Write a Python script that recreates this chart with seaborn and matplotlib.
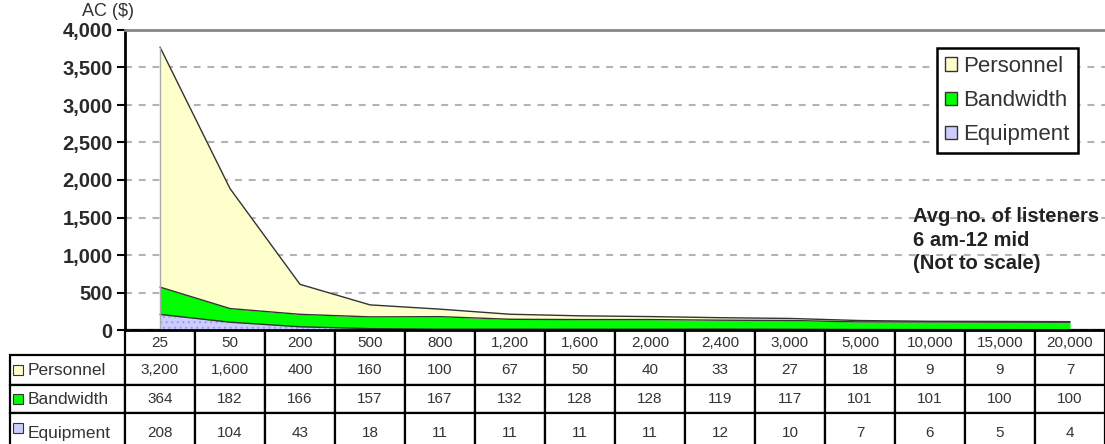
import numpy as np
import matplotlib
matplotlib.use("Agg")
import matplotlib.pyplot as plt
import seaborn as sns
from matplotlib.patches import Patch, Rectangle

# average cost per listener by audience size (stacked components)
listeners = ["25", "50", "200", "500", "800", "1,200", "1,600", "2,000",
             "2,400", "3,000", "5,000", "10,000", "15,000", "20,000"]
personnel = [3200, 1600, 400, 160, 100, 67, 50, 40, 33, 27, 18, 9, 9, 7]
bandwidth = [364, 182, 166, 157, 167, 132, 128, 128, 119, 117, 101, 101, 100, 100]
equipment = [208, 104, 43, 18, 11, 11, 11, 11, 12, 10, 7, 6, 5, 4]

series = ["Personnel", "Bandwidth", "Equipment"]
colors = {"Personnel": "#ffffcc", "Bandwidth": "#00ff00", "Equipment": "#ccccff"}

sns.set_theme(style="white")
plt.rcParams["font.family"] = ["Liberation Sans", "DejaVu Sans"]
plt.rcParams["hatch.linewidth"] = 0.8

fig = plt.figure(figsize=(11.05, 4.44), dpi=100)
ax = fig.add_axes([125 / 1105, 114 / 444, 980 / 1105, 300 / 444])

x = np.arange(len(listeners))
eq = np.array(equipment)
bw = eq + np.array(bandwidth)
pe = bw + np.array(personnel)

ax.fill_between(x, 0, eq, facecolor=colors["Equipment"], edgecolor="#9c9ce0",
                hatch="...", linewidth=0)
ax.fill_between(x, eq, bw, facecolor=colors["Bandwidth"], linewidth=0)
ax.fill_between(x, bw, pe, facecolor=colors["Personnel"], linewidth=0)
for top in (eq, bw, pe):
    sns.lineplot(x=x, y=top, ax=ax, color="#333333", linewidth=1)
ax.vlines(0, 0, pe[0], color="#aaaaaa", linewidth=1)

ax.set_xlim(-0.5, 13.5)
ax.set_ylim(0, 4000)
yt = list(range(0, 4001, 500))
ax.set_yticks(yt)
ax.set_yticklabels([f"{v:,}" for v in yt], fontsize=14.5, fontweight="bold", color="#2a2a2a")
ax.set_xticks([])
ax.set_xlabel("")
ax.set_ylabel("")
ax.tick_params(axis="y", direction="out", length=6, width=1.5, color="black", left=True, pad=3)
ax.yaxis.grid(True, linestyle=(0, (3.3, 3.3)), color="#b3b3b3", linewidth=1.5)
ax.set_axisbelow(True)
for side in ("left", "bottom"):
    ax.spines[side].set_color("black")
    ax.spines[side].set_linewidth(2)
ax.spines["top"].set_color("#888888")
ax.spines["top"].set_linewidth(2)
ax.spines["right"].set_visible(False)

# data table under the chart
vals = {"Personnel": personnel, "Bandwidth": bandwidth, "Equipment": equipment}
cell_text = [[""] + listeners] + [[s] + [f"{v:,}" for v in vals[s]] for s in series]
row_h = [25, 30, 28, 40]
tbl = ax.table(cellText=cell_text, cellLoc="center",
               bbox=[-115 / 980, -123 / 300, 1095 / 980, 123 / 300])
tbl.auto_set_font_size(False)
for (r, c), cell in tbl.get_celld().items():
    cell.set_width(115 if c == 0 else 70)
    cell.set_height(row_h[r])
    cell.set_linewidth(1.6)
    cell.set_edgecolor("black")
    cell.get_text().set_fontsize(11)
    cell.get_text().set_color("#333333")
    if c == 0:
        if r == 0:
            cell.visible_edges = ""
        else:
            cell.get_text().set_ha("left")
            cell.PAD = 18 / 115
            cell.get_text().set_fontsize(12.5)

# little colour keys in the row labels
top_px = 330 + row_h[0]
for s, h in zip(series, row_h[1:]):
    cy = top_px + h / 2 if s != "Equipment" else top_px + 15
    ax.add_patch(Rectangle(((13 - 125) / 980, (330 - cy - 5) / 300), 10 / 980, 10 / 300,
                           transform=ax.transAxes, clip_on=False, facecolor=colors[s],
                           edgecolor="#333333", linewidth=0.8, zorder=5))
    top_px += h

handles = [Patch(facecolor=colors[s], edgecolor="#333333", linewidth=1) for s in series]
leg = ax.legend(handles, series, loc="upper right", bbox_to_anchor=(0.972, 0.94),
                frameon=True, fancybox=False, edgecolor="black", framealpha=1,
                fontsize=16, handlelength=0.55, handleheight=0.55, handletextpad=0.3,
                labelspacing=0.6, borderpad=0.35, borderaxespad=0)
leg.get_frame().set_linewidth(1.8)
for t in leg.get_texts():
    t.set_color("#333333")

ax.text(0.804, 0.41, "Avg no. of listeners\n6 am-12 mid\n(Not to scale)",
        transform=ax.transAxes, fontsize=14.5, fontweight="bold", va="top", ha="left",
        linespacing=1.3, color="#222222")

fig.text(82 / 1105, 1 - 11 / 444, "AC ($)", fontsize=13, va="center", ha="left",
         color="#333333")

fig.savefig("out.png", dpi=100)
